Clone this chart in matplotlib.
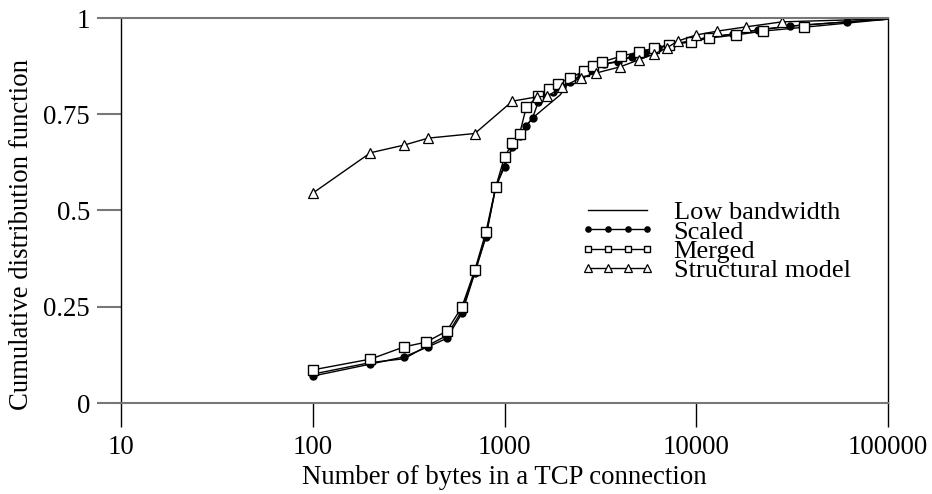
import matplotlib.pyplot as plt
from matplotlib.ticker import FixedLocator, NullLocator

plt.rcParams["font.family"] = ["Liberation Serif", "DejaVu Serif"]
plt.rcParams["font.size"] = 19.3

# Low bandwidth (line only)
low_x = [100, 200, 300, 400, 500, 600, 700, 800, 900, 1000, 1100, 1200, 1300,
         1400, 1650, 1950, 2150, 2500, 2800, 3300, 3900, 4600, 5400, 6300, 7500,
         9400, 11500, 15500, 21000, 31000, 61000, 100000]
low_y = [0.075, 0.105, 0.115, 0.15, 0.175, 0.24, 0.34, 0.435, 0.56, 0.62, 0.665,
         0.695, 0.72, 0.74, 0.77, 0.80, 0.83, 0.85, 0.865, 0.88, 0.888, 0.90,
         0.91, 0.922, 0.932, 0.94, 0.95, 0.958, 0.969, 0.979, 0.99, 0.997]

# Scaled (filled circles)
scaled_x = [100, 200, 300, 400, 500, 600, 700, 800, 900, 1000, 1100, 1200, 1300,
            1400, 1500, 1600, 1800, 2000, 2200, 2500, 2800, 3300, 3900, 4600, 5400,
            6300, 7500, 9400, 11500, 15500, 21000, 31000, 61000, 100000]
scaled_y = [0.07, 0.101, 0.12, 0.146, 0.168, 0.233, 0.338, 0.431, 0.561, 0.613,
            0.665, 0.693, 0.72, 0.74, 0.782, 0.795, 0.808, 0.821, 0.835, 0.85,
            0.865, 0.88, 0.886, 0.899, 0.909, 0.922, 0.932, 0.94, 0.95, 0.958,
            0.969, 0.979, 0.99, 0.997]

# Merged (open squares)
merged_x = [100, 200, 300, 390, 500, 600, 700, 800, 900, 1000, 1100, 1200, 1300,
            1500, 1700, 1900, 2200, 2600, 2900, 3240, 4070, 5050, 6040, 7230, 9420,
            11700, 16150, 22300, 36500, 100000]
merged_y = [0.086, 0.114, 0.146, 0.158, 0.187, 0.25, 0.345, 0.444, 0.561, 0.639,
            0.675, 0.70, 0.769, 0.797, 0.816, 0.829, 0.845, 0.862, 0.875, 0.886,
            0.901, 0.912, 0.922, 0.93, 0.938, 0.948, 0.956, 0.966, 0.976, 0.997]

# Structural model (open triangles)
struct_x = [100, 200, 300, 400, 700, 1100, 1470, 1670, 2000, 2500, 3000, 4000,
            5000, 6000, 7000, 8000, 10000, 12900, 18200, 28000, 100000]
struct_y = [0.545, 0.65, 0.67, 0.688, 0.70, 0.784, 0.795, 0.797, 0.82, 0.845,
            0.857, 0.873, 0.891, 0.906, 0.922, 0.94, 0.956, 0.966, 0.977, 0.99,
            0.998]

xticks = [10, 100, 1000, 10000, 100000]
xticklabels = ["10", "100", "1000", "10000", "100000"]
yticks = [0, 0.25, 0.5, 0.75, 1]
yticklabels = ["0", "0.25", "0.5", "0.75", "1"]

fig = plt.figure(figsize=(9.32, 4.94), dpi=100)
ax = fig.add_axes([121 / 932, 1 - 403 / 494, (888 - 121) / 932, (403 - 18) / 494])

lw = 1.0
ax.plot(low_x, low_y, color="black", lw=lw, label="Low bandwidth")
ax.plot(scaled_x, scaled_y, color="black", lw=lw, marker="o", ms=5,
        markevery=slice(0, -1), label="Scaled")
ax.plot(merged_x, merged_y, color="black", lw=lw, marker="s", ms=6.5,
        mfc="white", mew=1.0, markevery=slice(0, -1), label="Merged")
ax.plot(struct_x, struct_y, color="black", lw=lw, marker="^", ms=7,
        mfc="white", mew=0.9, markevery=slice(0, -1), label="Structural model")

ax.set_xscale("log")
ax.set_xlim(10, 100000)
ax.set_ylim(0, 1)
ax.xaxis.set_major_locator(FixedLocator(xticks))
ax.xaxis.set_minor_locator(NullLocator())
ax.set_xticklabels(xticklabels)
ax.set_yticks(yticks)
ax.set_yticklabels(yticklabels)

ax.tick_params(axis="x", direction="out", length=17.3, width=1.0, color="black", pad=6)
ax.tick_params(axis="y", direction="out", length=17.3, width=1.5, color="#777777", pad=5)

ax.spines["left"].set_color("black")
ax.spines["right"].set_color("black")
ax.spines["top"].set_color("#777777")
ax.spines["bottom"].set_color("#777777")
ax.spines["top"].set_linewidth(1.5)
ax.spines["bottom"].set_linewidth(1.5)
ax.spines["left"].set_linewidth(1.0)
ax.spines["right"].set_linewidth(1.0)

ax.set_xlabel("Number of bytes in a TCP connection", labelpad=3)
ax.set_ylabel("Cumulative distribution function")
ax.yaxis.set_label_coords((34 - 121) / 767, (403 - 234) / 385)

leg = ax.legend(loc="upper left", bbox_to_anchor=(580 / 932, 1 - 201 / 494),
                bbox_transform=fig.transFigure, frameon=False, borderpad=0,
                borderaxespad=0, labelspacing=-0.16, handlelength=2.85,
                handletextpad=0.7, numpoints=4, markerscale=0.75,
                prop={"size": 19})

fig.savefig("out.png", dpi=100)
